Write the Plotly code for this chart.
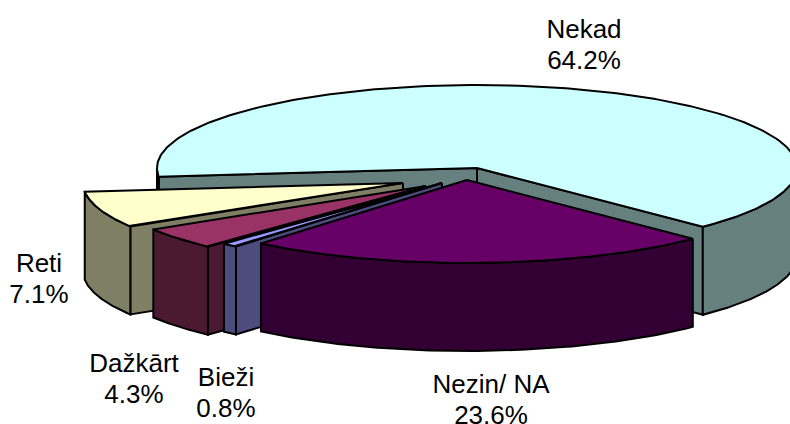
import numpy as np
import plotly.graph_objects as go

# Data
categories = ["Nekad", "Nezin/ NA", "Bieži", "Dažkārt", "Reti"]
shares = [64.2, 23.6, 0.8, 4.3, 7.1]

# Styles
top_colors = ["#CCFFFF", "#660066", "#9999FF", "#993366", "#FFFFCC"]
side_colors = ["#667F7F", "#330033", "#4C4C7F", "#4C1933", "#7F7F66"]

# Projection geometry (pixels in the figure's axes)
RX, RY, DEPTH = 320, 83, 88
START_ANGLE = 186.0
apex_x = [477, 467, 442, 426, 403]
apex_y = [168, 180, 183, 186, 183]
draw_order = [0, 4, 3, 2, 1]
label_x = [584, 491, 226, 134, 39]
label_y = [31, 386, 379, 365, 265]
LINE_GAP = 31
FONT_SIZE = 26

fig = go.Figure()


def poly(xs, ys, color):
    fig.add_trace(go.Scatter(
        x=list(xs), y=list(ys), mode="lines", fill="toself", fillcolor=color,
        line=dict(color="black", width=2), hoverinfo="skip", showlegend=False,
    ))


def arc(cx, cy, a0, a1, n=90):
    t = np.radians(np.linspace(a0, a1, n))
    return cx + RX * np.cos(t), cy - RY * np.sin(t)


def radial_wall(cx, cy, a, color):
    ex, ey = arc(cx, cy, a, a, 1)
    poly([cx, ex[0], ex[0], cx, cx], [cy, ey[0], ey[0] + DEPTH, cy + DEPTH, cy], color)


def outer_wall(cx, cy, a0, a1, color):
    x, y = arc(cx, cy, a0, a1)
    poly(np.r_[x, x[::-1], x[0]], np.r_[y, y[::-1] + DEPTH, y[0]], color)


# slice boundaries, clockwise from the start angle
total = sum(shares)
sweeps = [v / total * 360 for v in shares]
bounds = START_ANGLE - np.r_[0, np.cumsum(sweeps)]

for i in draw_order:
    a0, a1 = bounds[i], bounds[i + 1]
    cx, cy = apex_x[i], apex_y[i]
    side = side_colors[i]
    if np.cos(np.radians(a0)) < 0:
        radial_wall(cx, cy, a0, side)
    if np.cos(np.radians(a1)) > 0:
        radial_wall(cx, cy, a1, side)
    # visible outer wall: the front half of the rim (180..360 deg, i.e. -180..0)
    for shift in (0, -360):
        lo, hi = max(a1, 180 + shift), min(a0, 360 + shift)
        if hi > lo:
            outer_wall(cx, cy, hi, lo, side)
    x, y = arc(cx, cy, a0, a1, 240)
    poly(np.r_[cx, x, cx], np.r_[cy, y, cy], top_colors[i])

for name, share, lx, ly in zip(categories, shares, label_x, label_y):
    fig.add_trace(go.Scatter(
        x=[lx, lx], y=[ly, ly + LINE_GAP], mode="text",
        text=[name, f"{share:.1f}%"], textposition="middle center",
        textfont=dict(family="Liberation Sans", size=FONT_SIZE, color="black"),
        hoverinfo="skip", showlegend=False, cliponaxis=False,
    ))

fig.update_layout(
    width=790, height=424, margin=dict(l=0, r=0, t=0, b=0),
    paper_bgcolor="white", plot_bgcolor="white",
    xaxis=dict(range=[0, 790], visible=False, fixedrange=True),
    yaxis=dict(range=[424, 0], visible=False, fixedrange=True),
)
fig.write_html("out.html", config=dict(displayModeBar=False),
               post_script="document.body.style.margin='0';document.body.style.overflow='hidden';")
